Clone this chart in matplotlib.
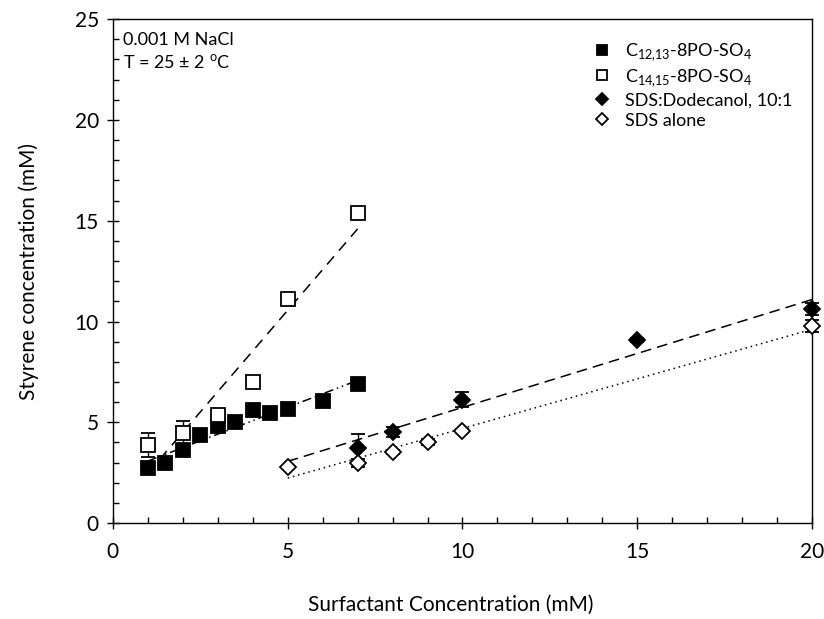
import matplotlib
matplotlib.use("Agg")
import matplotlib.pyplot as plt
import numpy as np
from matplotlib.ticker import MultipleLocator

plt.rcParams["font.family"] = ["Lato", "DejaVu Sans"]
plt.rcParams["mathtext.fontset"] = "custom"
plt.rcParams["mathtext.rm"] = "Lato"

# C12,13-8PO-SO4 (filled squares)
c12_x = [1, 1.5, 2, 2.5, 3, 3.5, 4, 4.5, 5, 6, 7]
c12_y = [2.75, 3.0, 3.62, 4.36, 4.81, 4.99, 5.6, 5.44, 5.65, 6.07, 6.9]
c12_err = [0.15, 0.1, 0.2, 0.15, 0.25, 0.1, 0.15, 0.1, 0.12, 0.05, 0.05]

# C14,15-8PO-SO4 (open squares)
c14_x = [1, 2, 3, 4, 5, 7]
c14_y = [3.87, 4.48, 5.36, 6.98, 11.1, 15.4]
c14_err = [0.6, 0.58, 0.2, 0.25, 0.2, 0.05]

# SDS:Dodecanol 10:1 (filled diamonds)
dod_x = [7, 8, 10, 15, 20]
dod_y = [3.7, 4.53, 6.13, 9.08, 10.6]
dod_err = [0.7, 0.25, 0.35, 0.1, 0.3]

# SDS alone (open diamonds)
sds_x = [5, 7, 8, 9, 10, 20]
sds_y = [2.78, 2.99, 3.54, 4.03, 4.56, 9.77]
sds_err = [0.05, 0.2, 0.1, 0.15, 0.1, 0.3]

fig = plt.figure(figsize=(8.24, 6.19), dpi=100)
ax = fig.add_axes([0.137, 0.155, 0.8485, 0.814])

def trend(x, y, x0, x1, style):
    p = np.polyfit(x, y, 1)
    xx = np.array([x0, x1])
    ax.plot(xx, np.polyval(p, xx), color="black", lw=1.1, linestyle=style, zorder=2)

trend(c12_x, c12_y, 1, 7, (0, (6, 2.5, 1, 2.5, 1, 2.5)))
trend(c14_x, c14_y, 1, 7, (0, (7, 5)))
trend(dod_x, dod_y, 5, 20, (0, (7, 4)))
trend(sds_x, sds_y, 5, 20, (0, (1, 2.5)))

eb = dict(ecolor="black", elinewidth=1, capsize=5, capthick=1, linestyle="none", zorder=3)
series = [
    (c12_x, c12_y, c12_err, "s", 10, "black", "C$_{12{,}13}$-8PO-SO$_4$"),
    (c14_x, c14_y, c14_err, "s", 10, "white", "C$_{14{,}15}$-8PO-SO$_4$"),
    (dod_x, dod_y, dod_err, "D", 8, "black", "SDS:Dodecanol, 10:1"),
    (sds_x, sds_y, sds_err, "D", 8, "white", "SDS alone"),
]
for x, y, e, m, ms, fc, lab in series:
    cont = ax.errorbar(x, y, yerr=e, marker=m, ms=ms, mfc=fc, mec="black", mew=1.3,
                       label=lab, **eb)
    for art in [cont[0], *cont[1], *cont[2]]:
        art.set_clip_on(False)

ax.set_xlim(0, 20)
ax.set_ylim(0, 25)
ax.xaxis.set_major_locator(MultipleLocator(5))
ax.xaxis.set_minor_locator(MultipleLocator(1))
ax.yaxis.set_major_locator(MultipleLocator(5))
ax.yaxis.set_minor_locator(MultipleLocator(1))
ax.tick_params(which="major", direction="inout", length=8, width=1, labelsize=15)
ax.tick_params(axis="x", which="major", pad=10)
ax.tick_params(axis="y", which="major", pad=6)
ax.tick_params(which="minor", direction="in", length=4, width=1)
for s in ax.spines.values():
    s.set_linewidth(1)

ax.set_xlabel("Surfactant Concentration (mM)", fontsize=15)
ax.xaxis.set_label_coords(0.4835, -0.142)
ax.set_ylabel("Styrene concentration (mM)", fontsize=15, labelpad=26)

ax.text(0.014, 0.975, "0.001 M NaCl", transform=ax.transAxes, fontsize=13, va="top", ha="left")
ax.text(0.014, 0.933, r"T = 25 ± 2 $^{\rm o}$C", transform=ax.transAxes, fontsize=13,
        va="top", ha="left")

handles, labels = ax.get_legend_handles_labels()
handles = [h[0] for h in handles]
ax.legend(handles, labels, loc="upper right", bbox_to_anchor=(0.995, 0.988), frameon=False,
          fontsize=13, handletextpad=0.5, labelspacing=0.22, handlelength=1.5,
          markerscale=0.75)

fig.savefig("out.png", dpi=100)
